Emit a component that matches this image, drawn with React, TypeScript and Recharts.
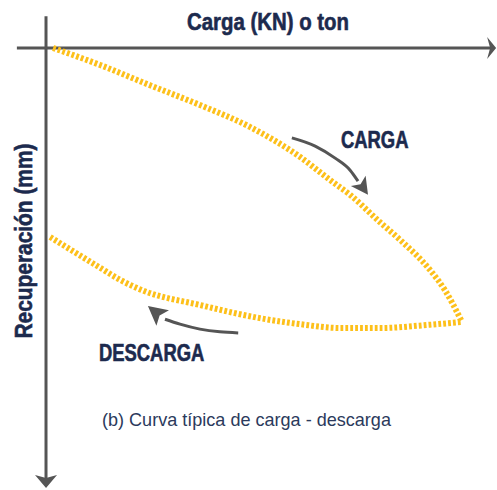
import { LineChart, Line, XAxis, YAxis, ReferenceLine, ReferenceDot } from "recharts";

// load (ton) vs recovery (mm), recovery grows downward
const loadingX = [1.7, 13.0, 25.0, 37.0, 49.0, 61.1, 68.3, 73.1, 80.3, 85.1, 92.3, 95.9, 100];
const loadingY = [0, 3.1, 6.8, 10.4, 14.4, 19.9, 24.1, 26.8, 31.8, 35.0, 40.5, 44.2, 50];

const unloadingX = [1.0, 13.0, 17.8, 23.1, 37.0, 51.4, 61.1, 70.7, 80.3, 92.3, 100];
const unloadingY = [34.5, 40.1, 42.3, 44.2, 46.9, 49.3, 50.4, 51.1, 51.1, 50.5, 50];

// annotation arrows
const cargaArrowX = [59.1, 64.7, 69.5, 73.1, 75.0];
const cargaArrowY = [16.4, 17.9, 20.1, 22.3, 24.3];
const cargaTip = { x: 77.4, y: 26.8, angle: 55 };

const descargaArrowX = [28.6, 32.2, 37.0, 41.8, 46.2];
const descargaArrowY = [49.5, 50.4, 51.3, 51.8, 52.0];
const descargaTip = { x: 24.5, y: 47.1, angle: 219 };

const X_DOMAIN: [number, number] = [-11.06, 108.41];
const Y_DOMAIN: [number, number] = [-8.76, 80.66];

const W = 497;
const H = 490;
const NAVY = "#1c2a4e";
const GRAY = "#555555";
const YELLOW = "#fdc01a";
const SANS = "'Liberation Sans', Arial, sans-serif";

const zip = (xs: number[], ys: number[]) => xs.map((x, i) => ({ x, y: ys[i] }));

const loading = zip(loadingX, loadingY);
const unloading = zip(unloadingX, unloadingY);
const cargaArrow = zip(cargaArrowX, cargaArrowY);
const descargaArrow = zip(descargaArrowX, descargaArrowY);

function arrowHead(angle: number, len: number, half: number, notch: number) {
  return (props: any) => {
    const { cx, cy } = props;
    if (cx == null || cy == null) return <g />;
    const pts = [
      [0, 0],
      [-len, -half],
      [-len + notch, 0],
      [-len, half],
    ]
      .map(([a, b]) => `${a},${b}`)
      .join(" ");
    return (
      <polygon
        points={pts}
        fill={GRAY}
        transform={`translate(${cx},${cy}) rotate(${angle})`}
      />
    );
  };
}

const bold = (size: number) => ({
  fontFamily: SANS,
  fontWeight: 700,
  fontSize: size,
  lineHeight: `${size}px`,
  color: NAVY,
  whiteSpace: "nowrap" as const,
  WebkitTextStroke: `0.6px ${NAVY}`,
});

export default function App() {
  return (
    <div style={{ position: "absolute", left: 0, top: 0, width: W, height: H, background: "#fff" }}>
      <LineChart width={W} height={H} margin={{ top: 0, right: 0, bottom: 0, left: 0 }}>
        <XAxis dataKey="x" type="number" domain={X_DOMAIN} allowDataOverflow hide />
        <YAxis type="number" domain={Y_DOMAIN} reversed allowDataOverflow hide />

        <ReferenceLine
          segment={[{ x: -7, y: 0 }, { x: 107, y: 0 }]}
          stroke={GRAY}
          strokeWidth={3}
          ifOverflow="visible"
        />
        <ReferenceLine
          segment={[{ x: 0, y: -5.8 }, { x: 0, y: 79.5 }]}
          stroke={GRAY}
          strokeWidth={3}
          ifOverflow="visible"
        />
        <ReferenceDot x={108.2} y={0} r={1} ifOverflow="visible" shape={arrowHead(0, 9, 11, 3)} />
        <ReferenceDot x={0} y={80.3} r={1} ifOverflow="visible" shape={arrowHead(90, 13, 11, 3)} />

        <Line
          data={loading}
          dataKey="y"
          type="monotone"
          stroke={YELLOW}
          strokeWidth={6}
          strokeDasharray="2.8 2.1"
          dot={false}
          activeDot={false}
          isAnimationActive={false}
        />
        <Line
          data={unloading}
          dataKey="y"
          type="monotone"
          stroke={YELLOW}
          strokeWidth={6}
          strokeDasharray="2.8 2.1"
          dot={false}
          activeDot={false}
          isAnimationActive={false}
        />

        <Line
          data={cargaArrow}
          dataKey="y"
          type="monotone"
          stroke={GRAY}
          strokeWidth={3}
          dot={false}
          activeDot={false}
          isAnimationActive={false}
        />
        <Line
          data={descargaArrow}
          dataKey="y"
          type="monotone"
          stroke={GRAY}
          strokeWidth={3}
          dot={false}
          activeDot={false}
          isAnimationActive={false}
        />
        <ReferenceDot
          x={cargaTip.x}
          y={cargaTip.y}
          r={1}
          ifOverflow="visible"
          shape={arrowHead(cargaTip.angle, 17, 9, 4)}
        />
        <ReferenceDot
          x={descargaTip.x}
          y={descargaTip.y}
          r={1}
          ifOverflow="visible"
          shape={arrowHead(descargaTip.angle, 19, 10, 4)}
        />
      </LineChart>

      <div
        style={{
          ...bold(24), position: "absolute", left: 267.5, top: 10,
          transform: "translateX(-50%) scaleX(0.85)",
        }}
      >
        Carga (KN) o ton
      </div>
      <div
        style={{
          ...bold(24), position: "absolute", left: 24, top: 241,
          transform: "translate(-50%, -50%) rotate(-90deg) scaleX(0.87)",
        }}
      >
        Recuperación (mm)
      </div>
      <div
        style={{
          ...bold(23), position: "absolute", left: 341, top: 129,
          transform: "scaleX(0.8)", transformOrigin: "left top",
        }}
      >
        CARGA
      </div>
      <div
        style={{
          ...bold(23), position: "absolute", left: 99, top: 342,
          transform: "scaleX(0.8)", transformOrigin: "left top",
        }}
      >
        DESCARGA
      </div>
      <div
        style={{
          position: "absolute", left: 102, top: 410, fontFamily: SANS, fontSize: 19, lineHeight: "19px",
          color: "#2b3a5c", whiteSpace: "nowrap", transform: "scaleX(0.95)", transformOrigin: "left top",
        }}
      >
        (b) Curva típica de carga - descarga
      </div>
    </div>
  );
}
